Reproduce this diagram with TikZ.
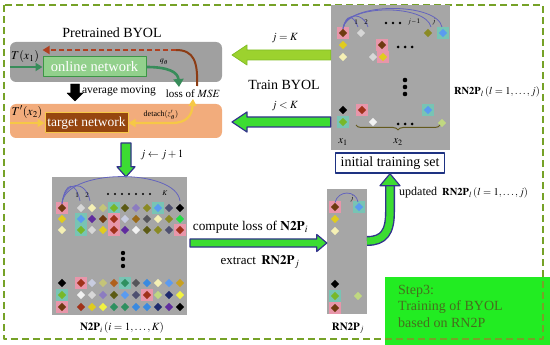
\documentclass[tikz,border=0pt]{standalone}
\usepackage{mathptmx}
\usepackage{fontspec}
\setmainfont{Liberation Serif}
\usetikzlibrary{shapes.geometric,decorations.pathreplacing,arrows.meta,calc}

\definecolor{frameolive}{RGB}{118,162,40}
\definecolor{panelgray}{RGB}{166,166,166}
\definecolor{boxgray}{RGB}{160,160,160}
\definecolor{onlinegreen}{RGB}{146,208,140}
\definecolor{onlineedge}{RGB}{60,150,70}
\definecolor{flowgreen}{RGB}{56,140,90}
\definecolor{lossbrown}{RGB}{140,60,20}
\definecolor{lossred}{RGB}{176,64,32}
\definecolor{salmon}{RGB}{242,172,124}
\definecolor{targetbrown}{RGB}{150,70,16}
\definecolor{flowyellow}{RGB}{246,200,70}
\definecolor{limegreen}{RGB}{156,210,46}
\definecolor{limeedge}{RGB}{130,190,40}
\definecolor{fatgreen}{RGB}{60,220,50}
\definecolor{fatedge}{RGB}{50,50,140}
\definecolor{setblue}{RGB}{30,50,130}
\definecolor{arcblue}{RGB}{100,100,190}
\definecolor{braceolive}{RGB}{100,90,30}
\definecolor{stepgreen}{RGB}{34,236,34}
\definecolor{steptext}{RGB}{70,110,30}
\definecolor{bgpink}{RGB}{232,150,170}
\definecolor{bgteal}{RGB}{120,196,180}
% diamond colours
\definecolor{dbrown}{RGB}{110,58,16}
\definecolor{dlgray}{RGB}{215,215,215}
\definecolor{dcream}{RGB}{245,240,180}
\definecolor{dpolive}{RGB}{196,196,120}
\definecolor{dgreen}{RGB}{120,184,40}
\definecolor{ddolive}{RGB}{92,90,20}
\definecolor{dlav}{RGB}{140,124,192}
\definecolor{dolive}{RGB}{138,138,36}
\definecolor{dsky}{RGB}{90,155,240}
\definecolor{dslate}{RGB}{78,80,112}
\definecolor{dyel}{RGB}{224,204,30}
\definecolor{dpurp}{RGB}{96,44,158}
\definecolor{drbrn}{RGB}{160,50,26}
\definecolor{dllav}{RGB}{200,204,224}
\definecolor{dochre}{RGB}{154,106,24}
\definecolor{ddgray}{RGB}{85,85,90}
\definecolor{dbgreen}{RGB}{34,221,68}
\definecolor{dteal}{RGB}{46,144,96}
\definecolor{dblue}{RGB}{58,138,224}
\definecolor{dnavy}{RGB}{30,42,110}
\definecolor{dgold}{RGB}{200,160,32}
\definecolor{dbyel}{RGB}{242,242,64}
\definecolor{dorbr}{RGB}{176,96,28}
\definecolor{dwhite}{RGB}{242,242,242}
\definecolor{dpgreen}{RGB}{192,216,128}

% fat arrow: [style]{tail}{tip}{head length}{head half width}{shaft half width}
\newcommand{\fatarrow}[6][]{%
  \path (#2) coordinate (fa-tail) (#3) coordinate (fa-tip);
  \path ($(fa-tip)!#4!(fa-tail)$) coordinate (fa-base);
  \filldraw[#1] (fa-tip)
    -- ($(fa-base)!#5!90:(fa-tip)$)
    -- ($(fa-base)!#6!90:(fa-tip)$)
    -- ($(fa-tail)!#6!90:(fa-base)$)
    -- ($(fa-tail)!#6!-90:(fa-base)$)
    -- ($(fa-base)!#6!-90:(fa-tip)$)
    -- ($(fa-base)!#5!-90:(fa-tip)$)
    -- cycle;}

\newcommand{\rowA}{dbrown,dlgray,dcream,dpolive,dgreen,ddolive,dlav,dolive,dsky,dslate,black}
\newcommand{\rowB}{dyel,dsky,dpurp,dbrown,drbrn,dllav,dochre,ddgray,dcream,dolive,dbgreen}
\newcommand{\rowC}{dcream,dgreen,dlgray,dyel,drbrn,dpurp,dwhite,ddolive,dolive,dslate,drbrn}
\newcommand{\rowD}{black,drbrn,dllav,dpolive,dorbr,dteal,ddgray,dblue,dcream,dsky,dgold}
\newcommand{\rowE}{dgreen,dwhite,dlgray,dlav,ddolive,dsky,dslate,drbrn,dpgreen,dnavy,dbyel}
\newcommand{\rowF}{dbrown,drbrn,dyel,dbyel,dteal,dteal,dblue,dblue,dnavy,dpurp,black}

\begin{document}
\begin{tikzpicture}[x=1pt, y=-1pt, line join=round,
    panel/.style={fill=panelgray, inner sep=0pt},
    dia/.style={diamond, fill=#1, inner sep=0pt, minimum size=8.5pt},
    bgsq/.style={fill=#1, inner sep=0pt, minimum size=12pt},
    arcline/.style={arcblue, line width=0.8pt},
    txt/.style={inner sep=0pt, font=\fontsize{#1}{#1}\selectfont}]
  \useasboundingbox (0,0) rectangle (550,345);
  % --- step 3 box ----------------------------------------------------
  \fill[stepgreen] (385,277) rectangle (550,345);
  \node[inner sep=0pt, align=left, anchor=north west, text=steptext, font=\fontsize{14}{16.5}\selectfont]
    (steptxt) at (398,285) {Step3:\\Training of BYOL\\based on RN2P};
  % --- frame ---------------------------------------------------------
  \draw[frameolive, line width=2pt, dash pattern=on 7pt off 4pt] (4,5) rectangle (543,339);
  % --- pretrained BYOL -----------------------------------------------
  \node[txt=14] (title) at (112,33) {Pretrained BYOL};
  \node[fill=boxgray, rounded corners=6pt, minimum width=212pt, minimum height=40pt, inner sep=0pt] (onlinebg) at (116,62) {};
  \node[fill=onlinegreen, draw=onlineedge, line width=1pt, minimum width=103pt, minimum height=20pt, inner sep=0pt,
        text=white, font=\fontsize{14.5}{14.5}\selectfont] (online) at (94.5,67) {online network};
  \node[fill=salmon, rounded corners=6pt, minimum width=212pt, minimum height=34pt, inner sep=0pt] (targetbg) at (116,121) {};
  \node[fill=targetbrown, draw=flowyellow, line width=1pt, minimum width=83pt, minimum height=20pt, inner sep=0pt,
        text=white, font=\fontsize{13.5}{13.5}\selectfont] (target) at (86.5,123) {target network};
  \node[txt=12] (tx1) at (25,57) {$T(x_1)$};
  \node[txt=12] (tx2) at (27,112) {$T'(x_2)$};
  \node[txt=8] (qth) at (164,62) {$q_\theta$};
  \node[txt=11] (loss) at (193,94) {loss of $MSE$};
  \node[txt=11.5] (avg) at (119,91) {average moving};
  \node[txt=8] (detach) at (161,115) {detach$(z'_\theta)$};
  \coordinate (lossTop) at (176,50);
  \draw[flowgreen, line width=2.2pt, -{Triangle[length=7pt,width=8pt]}] (onlinebg.west |- online) -- (online.west);
  \draw[flowgreen, line width=2.6pt, -{Triangle[length=8pt,width=10pt]}]
    (online.east) .. controls (168,67) and (178,72) .. (179,87);
  \draw[lossbrown, line width=2pt] (197,86) .. controls (198,62) and (194,50) .. (lossTop);
  \draw[lossred, line width=1.8pt, dash pattern=on 5pt off 3pt, -{Triangle[length=7pt,width=8pt]}]
    (lossTop) -- (online.west |- lossTop);
  \draw[flowyellow, line width=2.2pt, -{Triangle[length=7pt,width=8pt]}] (targetbg.west |- target) -- (target.west);
  \draw[flowyellow, line width=2.2pt, {Triangle[length=7pt,width=8pt]}-{Triangle[length=7pt,width=8pt]}]
    (target.east) -- (172,123) .. controls (186,123) and (192,116) .. (193,99);
  \fatarrow[fill=black]{75,84}{75,101}{8pt}{8pt}{4.5pt}
  % --- initial training set ------------------------------------------
  \node[panel, minimum width=119pt, minimum height=145pt] (rnpanel) at (390.5,77.5) {};
  \foreach \x/\y/\c in {343/33/bgpink, 443/33/bgteal, 382/45/bgpink, 383/57/bgpink,
                        362/110/bgpink, 428/110/bgteal, 343/122/bgteal}
    \node[bgsq=\c] at (\x,\y) {};
  \foreach \x/\y/\c [count=\k] in {343/33/dbrown, 361/33/dlgray, 428/33/dolive, 443/33/dsky,
                        343/45/dyel, 382/45/dbrown, 343/57/dcream, 373/57/dlgray, 383/57/dyel,
                        343/110/black, 362/110/drbrn, 428/110/dsky,
                        343/122/dgreen, 373/122/dwhite, 442/123/dpgreen}
    \node[dia=\c] (rd-\k) at (\x,\y) {};
  \foreach \xe/\cy in {358/14, 368/12, 431/4, 442/2}
    \draw[arcline] (rd-1.north) .. controls (346,\cy) and (\xe-5,\cy) .. (\xe,27);
  \node[txt=7] (r1) at (356,22) {1};
  \node[txt=7] (r2) at (366,22) {2};
  \node[txt=7] (rjm) at (414,22) {$j$\,--\,1};
  \node[txt=7] (rj) at (434,22) {$j$};
  \foreach \x in {386,393,400} \fill (\x,23) circle (1.3);
  \foreach \x in {398,405,412} \fill (\x,47) circle (1.5);
  \foreach \x in {398,405,412} \fill (\x,124) circle (1.5);
  \foreach \y in {80,87,94} \fill (405,\y) circle (2.3);
  \draw[decorate, decoration={brace, amplitude=5pt, mirror}, braceolive, line width=1pt] (356,125) -- (440,125);
  \node[txt=11] (lx1) at (343,142) {$x_1$};
  \node[txt=11] (lx2) at (398,142) {$x_2$};
  \node[txt=10.5] (rnlab) at (497,92) {$\mathbf{RN2P}_l\,(l=1,\ldots,j)$};
  \node[draw=setblue, line width=1.4pt, fill=white, minimum width=109pt, minimum height=20pt, inner sep=0pt,
        font=\fontsize{14}{14}\selectfont] (initset) at (390,163) {initial training set};
  % --- train BYOL arrows ---------------------------------------------
  \coordinate (kTip) at (232,55);
  \coordinate (lTip) at (232,122);
  \fatarrow[fill=limegreen, draw=limeedge, line width=0.8pt]{rnpanel.west |- kTip}{kTip}{15pt}{10pt}{5pt}
  \fatarrow[fill=fatgreen, draw=fatedge, line width=1.2pt]{rnpanel.west |- lTip}{lTip}{15pt}{10pt}{5pt}
  \node[txt=11] (jeqk) at (285,38) {$j=K$};
  \node[txt=14] (train) at (284,85) {Train BYOL};
  \node[txt=11] (jltk) at (285,106) {$j<K$};
  % --- N2P set -------------------------------------------------------
  \node[panel, minimum width=135pt, minimum height=138pt] (npanel) at (119.5,246) {};
  \coordinate (incTail) at (126,143);
  \fatarrow[fill=fatgreen, draw=fatedge, line width=1.2pt]{incTail}{npanel.north -| incTail}{10pt}{9pt}{5pt}
  \node[txt=11] (jinc) at (162,155) {$j\leftarrow j+1$};
  \foreach \x/\y/\c in {62/208/bgpink, 114/208/bgteal, 158/208/bgteal, 81/219/bgteal, 81/230/bgteal,
                        114/219/bgpink, 114/230/bgpink, 180/230/bgpink, 81/283/bgpink, 125/283/bgteal,
                        62/295/bgteal, 147/295/bgpink, 62/307/bgpink}
    \node[bgsq=\c] at (\x,\y) {};
  \foreach \y/\cols [count=\r] in {208/\rowA, 219/\rowB, 230/\rowC, 283/\rowD, 295/\rowE, 307/\rowF} {
    \edef\collist{\cols}
    \foreach \c [count=\k] in \collist {
      \pgfmathsetmacro{\x}{\k==1 ? 62 : 59+11*\k}
      \node[dia=\c] (n-\r-\k) at (\x,\y) {};
    }
  }
  \foreach \xe/\cy in {80/181, 90/180, 180/168}
    \draw[arcline] (n-1-1.north) .. controls (65,\cy) and (\xe-4,\cy) .. (\xe,201);
  \node[txt=7] (n1) at (77,195) {1};
  \node[txt=7] (n2) at (87,195) {2};
  \node[txt=7] (nk) at (165,193) {$K$};
  \foreach \x in {108,115,...,150} \fill (\x,194) circle (1.1);
  \foreach \y in {253,259,266} \fill (123,\y) circle (2.2);
  \node[txt=11] (nlab) at (122,328) {$\mathbf{N2P}_i\,(i=1,\ldots,K)$};
  % --- RN2P_j --------------------------------------------------------
  \node[panel, minimum width=40pt, minimum height=125pt] (rjpanel) at (347,251.5) {};
  \coordinate (compTail) at (190,243);
  \fatarrow[fill=fatgreen, draw=fatedge, line width=1.2pt]{compTail}{rjpanel.west |- compTail}{10pt}{8.5pt}{4pt}
  \node[txt=13.3] (comp) at (250.5,227) {compute loss of $\mathbf{N2P}_i$};
  \node[txt=13] (extr) at (260,262) {extract\, $\mathbf{RN2P}_j$};
  \foreach \x/\y/\c in {335/207/bgpink, 359/207/bgteal, 335/296/bgteal, 335/308/bgpink}
    \node[bgsq=\c] at (\x,\y) {};
  \foreach \x/\y/\c [count=\k] in {335/207/dbrown, 359/207/dsky, 335/219/dyel, 335/231/dcream,
                        335/284/black, 335/296/dgreen, 358/296/dpgreen, 335/308/dbrown}
    \node[dia=\c] (j-\k) at (\x,\y) {};
  \draw[arcline] (j-1.north) .. controls (338,190) and (356,190) .. (358,202);
  \node[txt=7] (jl) at (352,199) {$j$};
  \node[txt=11] (rjlab) at (348,328) {$\mathbf{RN2P}_j$};
  % --- update arrow --------------------------------------------------
  \coordinate (updStart) at (367,241);
  \draw[fatedge, line width=10pt] (updStart) .. controls (384,241) and (390,232) .. (390,212) -- (390,184);
  \draw[fatgreen, line width=7.2pt] (updStart) .. controls (384,241) and (390,232) .. (390,212) -- (390,184);
  \filldraw[fill=fatgreen, draw=fatedge, line width=1.2pt] (initset.south) -- ++(-10,12) -- ++(20,0) -- cycle;
  \node[txt=12, anchor=west] (upd) at (399,193) {updated \,{\fontsize{10.5}{10.5}\selectfont$\mathbf{RN2P}_l\,(l=1,\ldots,j)$}};
\end{tikzpicture}
\end{document}
